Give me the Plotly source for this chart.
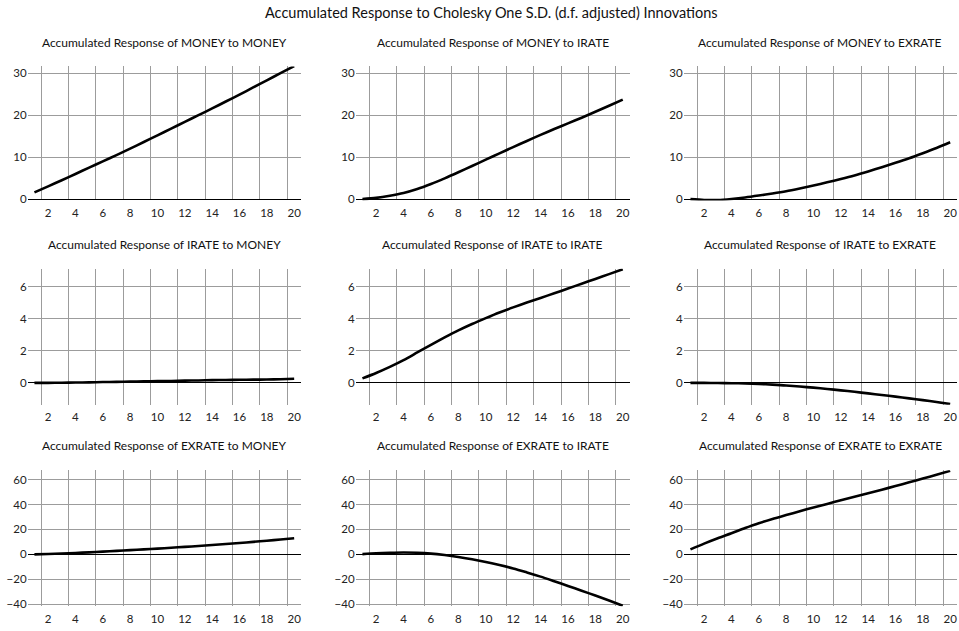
import plotly.graph_objects as go
from plotly.subplots import make_subplots

periods = list(range(1, 21))

money_to_money = [1.6, 3.05, 4.5, 6.0, 7.5, 9.0, 10.5, 12.05, 13.6, 15.2,
                  16.8, 18.4, 20.0, 21.6, 23.25, 24.9, 26.6, 28.3, 30.0, 31.7]
money_to_irate = [0.0, 0.3, 0.8, 1.45, 2.4, 3.6, 4.95, 6.4, 7.9, 9.4,
                  10.9, 12.4, 13.85, 15.3, 16.7, 18.05, 19.4, 20.8, 22.25, 23.7]
money_to_exrate = [0.0, -0.2, -0.2, 0.05, 0.4, 0.85, 1.35, 1.9, 2.55, 3.25,
                   4.0, 4.8, 5.65, 6.6, 7.6, 8.65, 9.75, 10.95, 12.2, 13.55]
irate_to_money = [0.0, 0.0, 0.01, 0.02, 0.03, 0.05, 0.06, 0.08, 0.09, 0.11,
                  0.12, 0.14, 0.15, 0.17, 0.18, 0.19, 0.20, 0.21, 0.23, 0.26]
irate_to_irate = [0.28, 0.62, 1.0, 1.42, 1.9, 2.38, 2.84, 3.28, 3.68, 4.05,
                  4.4, 4.72, 5.02, 5.31, 5.6, 5.9, 6.2, 6.5, 6.8, 7.1]
irate_to_exrate = [0.0, 0.0, -0.01, -0.02, -0.04, -0.07, -0.11, -0.16, -0.23, -0.3,
                   -0.38, -0.47, -0.56, -0.66, -0.76, -0.86, -0.97, -1.08, -1.2, -1.33]
exrate_to_money = [0.0, 0.3, 0.7, 1.1, 1.6, 2.2, 2.8, 3.4, 4.0, 4.6,
                   5.3, 6.0, 6.7, 7.5, 8.3, 9.1, 10.0, 10.9, 11.9, 12.9]
exrate_to_irate = [0.2, 0.9, 1.3, 1.5, 1.3, 0.6, -0.6, -2.1, -3.9, -6.1,
                   -8.6, -11.3, -14.5, -17.9, -21.6, -25.4, -29.2, -33.1, -37.1, -41.2]
exrate_to_exrate = [4.0, 8.6, 12.9, 16.9, 21.1, 25.0, 28.4, 31.5, 34.6, 37.6,
                    40.5, 43.4, 46.2, 49.0, 51.9, 54.8, 57.8, 60.8, 63.9, 67.0]

panel_titles = [
    "Accumulated Response of MONEY to MONEY",
    "Accumulated Response of MONEY to IRATE",
    "Accumulated Response of MONEY to EXRATE",
    "Accumulated Response of IRATE to MONEY",
    "Accumulated Response of IRATE to IRATE",
    "Accumulated Response of IRATE to EXRATE",
    "Accumulated Response of EXRATE to MONEY",
    "Accumulated Response of EXRATE to IRATE",
    "Accumulated Response of EXRATE to EXRATE",
]
panel_series = [money_to_money, money_to_irate, money_to_exrate,
                irate_to_money, irate_to_irate, irate_to_exrate,
                exrate_to_money, exrate_to_irate, exrate_to_exrate]

main_title = "Accumulated Response to Cholesky One S.D. (d.f. adjusted) Innovations"

x_tickvals = [2, 4, 6, 8, 10, 12, 14, 16, 18, 20]
x_gridvals = [1.5, 3.5, 5.5, 7.5, 9.5, 11.5, 13.5, 15.5, 17.5, 19.5]
row_yticks = [[0, 10, 20, 30], [0, 2, 4, 6], [-40, -20, 0, 20, 40, 60]]
row_yranges = [[-0.3, 31.6], [-1.37, 7.13], [-41.6, 67.5]]

W, H = 959, 631
col_px = [(27.6, 301.0), (355.6, 629.6), (683.6, 957.0)]
row_px = [(67, 202), (271, 408), (474, 611)]
title_y_px = [43, 246, 449]

FONT = "Lato, 'Open Sans', sans-serif"
GRID = "#9c9c9c"

fig = make_subplots(rows=3, cols=3)

for i, ys in enumerate(panel_series):
    r, c = divmod(i, 3)
    fig.add_trace(go.Scatter(x=periods, y=ys, mode="lines",
                             line=dict(color="black", width=2.6, shape="spline", smoothing=0.8),
                             showlegend=False, hoverinfo="skip"),
                  row=r + 1, col=c + 1)

for i in range(9):
    r, c = divmod(i, 3)
    xa = "xaxis" if i == 0 else f"xaxis{i+1}"
    ya = "yaxis" if i == 0 else f"yaxis{i+1}"
    x0, x1 = col_px[c]
    y0, y1 = row_px[r]
    fig.layout[xa].update(
        domain=[x0 / W, x1 / W], range=[0.5, 20.5],
        tickmode="array", tickvals=x_tickvals, ticktext=[str(v) for v in x_tickvals],
        showgrid=False, zeroline=False, showline=False, ticks="",
        ticklabeloverflow="allow", ticklabelstandoff=4,
        tickfont=dict(family=FONT, size=11.5, color="#222"),
        minor=dict(tickmode="array", tickvals=x_gridvals, showgrid=True,
                   gridcolor=GRID, gridwidth=1, ticks=""),
    )
    fig.layout[ya].update(
        domain=[1 - y1 / H, 1 - y0 / H], range=row_yranges[r],
        tickmode="array", tickvals=row_yticks[r],
        showgrid=True, gridcolor=GRID, gridwidth=1,
        zeroline=True, zerolinecolor="black", zerolinewidth=1.2,
        showline=False, ticks="",
        ticklabeloverflow="allow",
        tickfont=dict(family=FONT, size=11.5, color="#222"),
    )
    fig.add_annotation(text=panel_titles[i], xref="paper", yref="paper",
                       x=(x0 + x1) / 2 / W, y=1 - title_y_px[r] / H,
                       xanchor="center", yanchor="middle", showarrow=False,
                       font=dict(family=FONT, size=12, color="#111"))

fig.add_annotation(text=main_title, xref="paper", yref="paper",
                   x=491 / W, y=1 - 13 / H, xanchor="center", yanchor="middle",
                   showarrow=False, font=dict(family=FONT, size=14.5, color="#111"))

fig.update_layout(width=W, height=H, margin=dict(l=0, r=0, t=0, b=0),
                  plot_bgcolor="white", paper_bgcolor="white",
                  font=dict(family=FONT))

fig.write_html("out.html", config={"displayModeBar": False},
               post_script="document.body.style.margin='0';document.body.style.overflow='hidden';")
